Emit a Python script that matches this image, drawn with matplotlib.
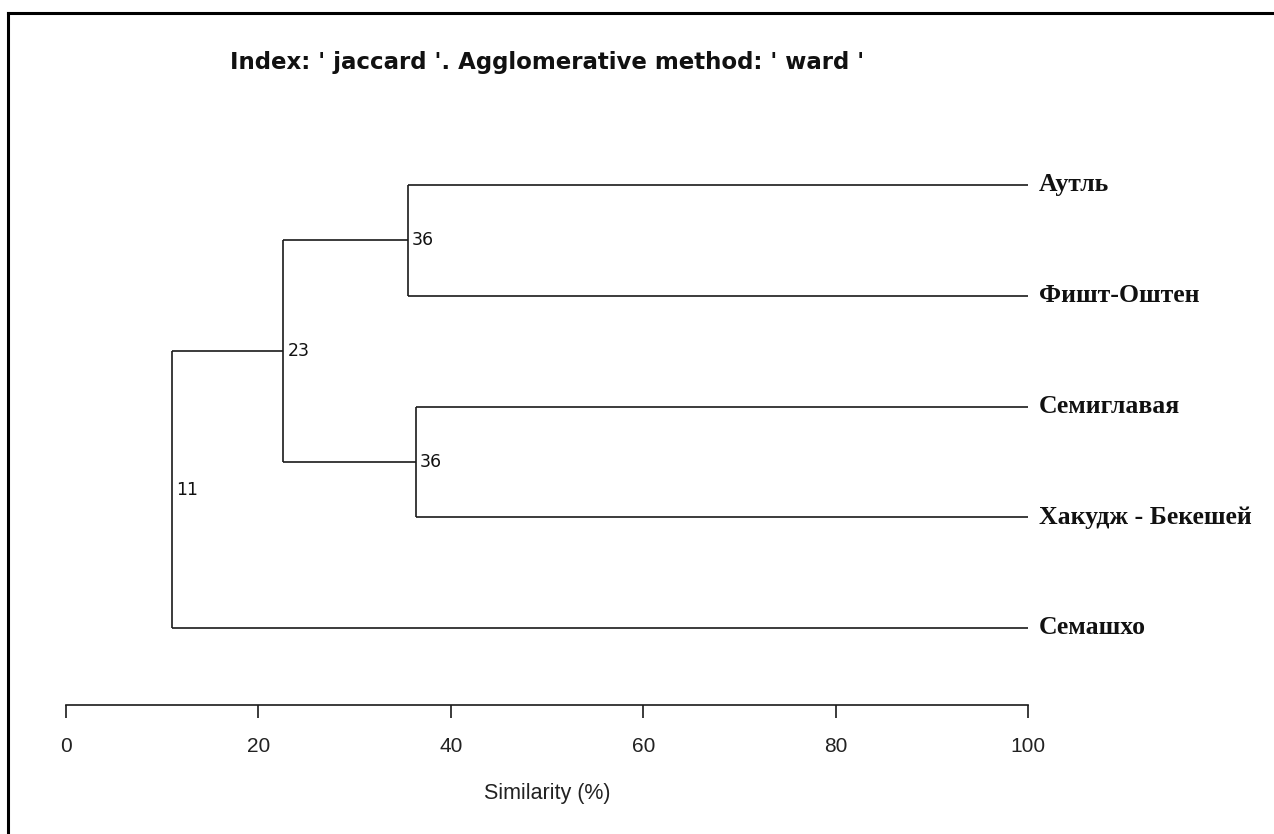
import matplotlib.pyplot as plt
from matplotlib.lines import Line2D

# leaves, top to bottom
leaves = ["Аутль", "Фишт-Оштен", "Семиглавая", "Хакудж - Бекешей", "Семашхо"]
# merges: (child a, child b, similarity %, label); ids >= len(leaves) are earlier merges
merges = [
    (0, 1, 35.5, "36"),
    (2, 3, 36.4, "36"),
    (5, 6, 22.6, "23"),
    (7, 4, 11.0, "11"),
]
xticks = [0, 20, 40, 60, 80, 100]
title = "Index: ' jaccard '. Agglomerative method: ' ward '"

W, H = 1274, 834
fig = plt.figure(figsize=(W / 100, H / 100), dpi=100)
fig.patch.set_facecolor("white")

# axes: x 0..100 -> px 66..1028, top px 140, bottom (axis line) px 705
ax = fig.add_axes([66 / W, 1 - 705 / H, 962 / W, (705 - 140) / H])
ax.set_xlim(0, 100)
px_per_leaf = 110.75
ax.set_ylim(4 + (705 - 628) / px_per_leaf, -(185 - 140) / px_per_leaf)

lc = "#1a1a1a"
lw = 1.2

# node positions
pos = {i: (100.0, float(i)) for i in range(len(leaves))}
for k, (a, b, sim, lab) in enumerate(merges):
    ya, yb = pos[a][1], pos[b][1]
    ym = (ya + yb) / 2
    ax.plot([sim, sim], [ya, yb], color=lc, lw=lw, solid_capstyle="butt")
    for c in (a, b):
        ax.plot([sim, pos[c][0]], [pos[c][1], pos[c][1]], color=lc, lw=lw,
                solid_capstyle="butt")
    ax.text(sim + 0.4, ym, lab, ha="left", va="center", fontsize=12.5,
            family=["DejaVu Sans"], color="#111111")
    pos[len(leaves) + k] = (sim, ym)

for i, name in enumerate(leaves):
    ax.text(101.1, i, name, ha="left", va="center", fontsize=18.5,
            fontweight="bold", family=["Liberation Serif", "DejaVu Serif"],
            color="#111111", clip_on=False)

for s in ("top", "right", "left"):
    ax.spines[s].set_visible(False)
ax.spines["bottom"].set_bounds(0, 100)
ax.spines["bottom"].set_linewidth(1.2)
ax.spines["bottom"].set_color(lc)
ax.set_yticks([])
ax.set_xticks(xticks)
ax.set_xticklabels([str(t) for t in xticks],
                   family=["Liberation Sans", "DejaVu Sans"], fontsize=15)
ax.tick_params(axis="x", length=9, width=1.2, color=lc, pad=14, labelcolor="#222222")
ax.patch.set_alpha(0)

fig.text(547 / W, 1 - 793 / H, "Similarity (%)", ha="center", va="center",
         fontsize=15.5, family=["Liberation Sans", "DejaVu Sans"], color="#222222")
fig.text(230 / W, 1 - 62 / H, title, ha="left", va="center", fontsize=16.5,
         fontweight="bold", family=["DejaVu Sans"], color="#111111")

# outer frame: top and left edges only
fig.add_artist(Line2D([8 / W, 1.0], [1 - 13 / H, 1 - 13 / H], transform=fig.transFigure,
                      color="black", lw=2.2))
fig.add_artist(Line2D([8 / W, 8 / W], [0.0, 1 - 13 / H], transform=fig.transFigure,
                      color="black", lw=2.2))

fig.savefig("out.png", dpi=100, facecolor="white")
